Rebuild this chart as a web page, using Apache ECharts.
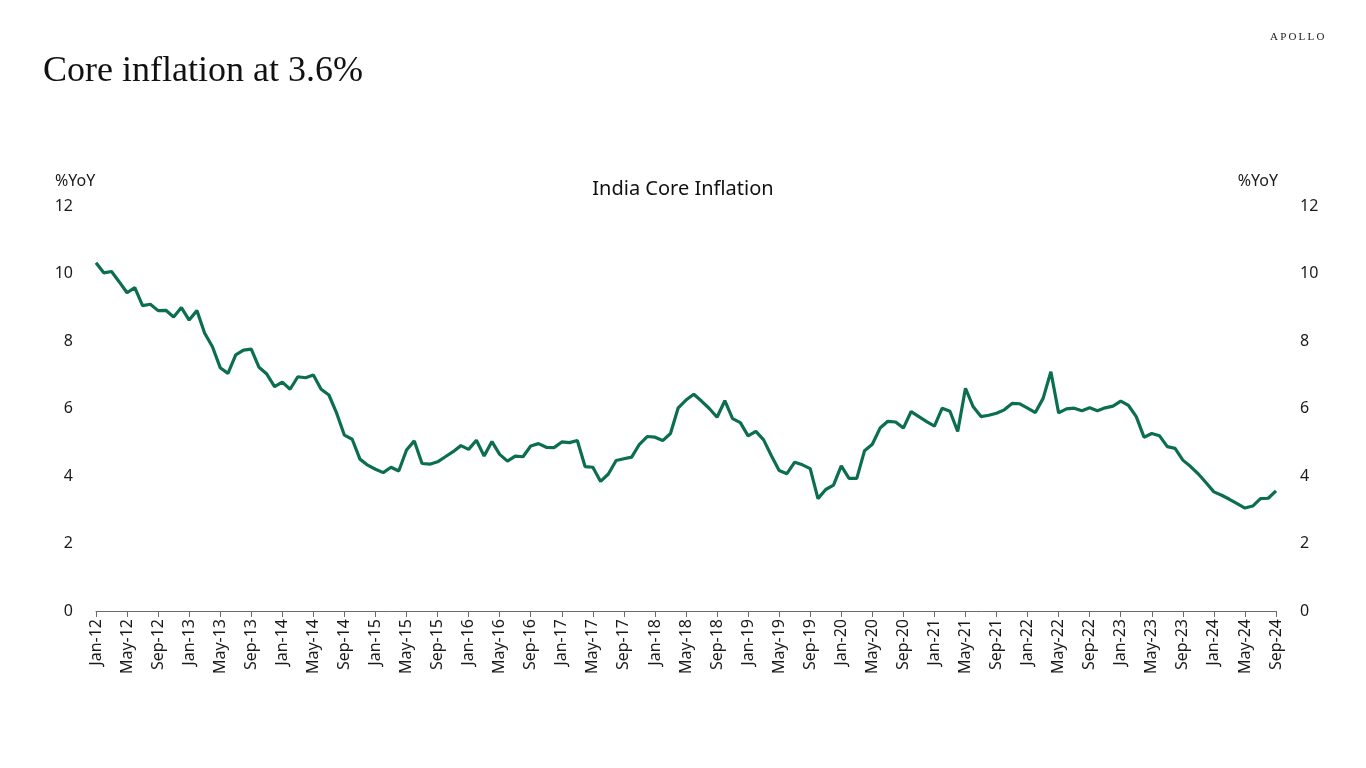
<!DOCTYPE html>
<html>
<head>
<meta charset="utf-8">
<script src="https://cdn.jsdelivr.net/npm/echarts@6/dist/echarts.min.js"></script>
<style>
html,body{margin:0;padding:0;background:#fff;}
#chart{width:1366px;height:768px;}
</style>
</head>
<body>
<div id="chart"></div>
<script>
// Monthly categories Jan-12 .. Sep-24
var monthNames = ['Jan','Feb','Mar','Apr','May','Jun','Jul','Aug','Sep','Oct','Nov','Dec'];
var startYear = 12, endYear = 24, endMonth = 8;
var categories = [];
for (var y = startYear; y <= endYear; y++) {
  for (var m = 0; m < 12; m++) {
    if (y === endYear && m > endMonth) break;
    categories.push(monthNames[m] + '-' + y);
  }
}

// India core inflation, %YoY
var coreInflation = [
  10.32, 10.02, 10.06, 9.75, 9.43, 9.58, 9.05, 9.09, 8.90, 8.91, 8.71, 8.99,
  8.62, 8.90, 8.23, 7.83, 7.21, 7.04, 7.59, 7.73, 7.76, 7.22, 7.02, 6.65,
  6.78, 6.57, 6.94, 6.91, 6.99, 6.57, 6.40, 5.86, 5.21, 5.09, 4.50, 4.32,
  4.20, 4.10, 4.26, 4.15, 4.77, 5.04, 4.37, 4.35, 4.42, 4.57, 4.72, 4.90,
  4.79, 5.06, 4.59, 5.02, 4.64, 4.44, 4.59, 4.57, 4.89, 4.96, 4.85, 4.84,
  5.01, 4.99, 5.05, 4.28, 4.26, 3.84, 4.06, 4.46, 4.51, 4.56, 4.94, 5.17,
  5.15, 5.05, 5.26, 6.02, 6.25, 6.42, 6.22, 6.00, 5.74, 6.23, 5.70, 5.58,
  5.19, 5.32, 5.07, 4.60, 4.16, 4.07, 4.41, 4.33, 4.22, 3.33, 3.60, 3.73,
  4.30, 3.93, 3.93, 4.75, 4.94, 5.42, 5.62, 5.60, 5.42, 5.91, 5.76, 5.61,
  5.48, 6.01, 5.92, 5.32, 6.60, 6.05, 5.76, 5.80, 5.86, 5.96, 6.15, 6.14,
  6.01, 5.88, 6.30, 7.09, 5.87, 5.99, 6.01, 5.93, 6.02, 5.93, 6.02, 6.07,
  6.22, 6.09, 5.76, 5.15, 5.26, 5.19, 4.87, 4.82, 4.47, 4.28, 4.06, 3.80,
  3.53, 3.43, 3.31, 3.18, 3.05, 3.11, 3.33, 3.34, 3.56
];

var yTicks = { min: 0, max: 12, interval: 2 };

var chart = echarts.init(document.getElementById('chart'), null, { renderer: 'canvas' });
var sans = '"Noto Sans", "Open Sans", sans-serif';
var labelColor = '#1a1a1a';

chart.setOption({
  backgroundColor: '#ffffff',
  animation: false,
  title: [
    { text: 'Core inflation at 3.6%', left: 38, top: 49,
      textStyle: { fontFamily: '"Liberation Serif", serif', fontWeight: 'normal', fontSize: 36, color: '#111' } },
    { text: 'India Core Inflation', left: 'center', top: 174,
      textStyle: { fontFamily: sans, fontWeight: 'normal', fontSize: 20, color: '#111' } }
  ],
  graphic: [
    { type: 'text', left: 1270, top: 32,
      style: { text: 'A\u2009P\u2009O\u2009L\u2009L\u2009O', font: '11px "Liberation Serif", serif', fill: '#222' } },
    { type: 'text', left: 55, top: 173,
      style: { text: '%YoY', font: '16px "Noto Sans", sans-serif', fill: labelColor } },
    { type: 'text', right: 1366 - 1278, top: 173,
      style: { text: '%YoY', font: '16px "Noto Sans", sans-serif', fill: labelColor } }
  ],
  grid: { left: 96, right: 90, top: 206, bottom: 157, containLabel: false },
  xAxis: {
    type: 'category',
    data: categories,
    boundaryGap: false,
    axisLine: { show: true, lineStyle: { color: '#6b6b6b', width: 1 } },
    axisTick: { show: true, interval: 3, length: 6, lineStyle: { color: '#6b6b6b' } },
    axisLabel: { interval: 3, rotate: 90, margin: 8, fontFamily: sans, fontSize: 16, color: labelColor },
    splitLine: { show: false }
  },
  yAxis: [
    { type: 'value', min: yTicks.min, max: yTicks.max, interval: yTicks.interval, position: 'left',
      axisLine: { show: false }, axisTick: { show: false }, splitLine: { show: false },
      axisLabel: { margin: 23, fontFamily: sans, fontSize: 16, color: labelColor } },
    { type: 'value', min: yTicks.min, max: yTicks.max, interval: yTicks.interval, position: 'right',
      axisLine: { show: false }, axisTick: { show: false }, splitLine: { show: false },
      axisLabel: { margin: 24, fontFamily: sans, fontSize: 16, color: labelColor } }
  ],
  series: [{
    name: 'India Core Inflation',
    type: 'line',
    data: coreInflation,
    showSymbol: false,
    symbol: 'none',
    lineStyle: { color: '#0b6e4f', width: 3.2 },
    itemStyle: { color: '#0b6e4f' }
  }]
});
</script>
</body>
</html>
